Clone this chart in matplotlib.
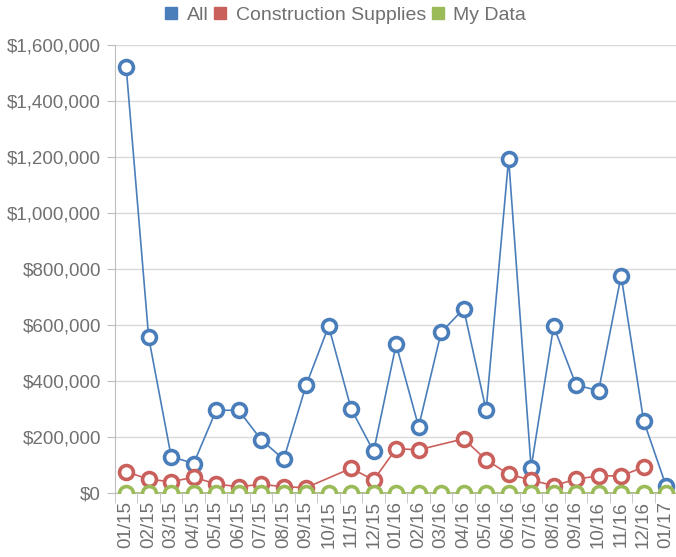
import numpy as np
import pandas as pd
import matplotlib
matplotlib.use("Agg")
import matplotlib.pyplot as plt
from matplotlib.ticker import FuncFormatter, FixedLocator
from matplotlib.lines import Line2D

plt.rcParams["font.family"] = ["Liberation Sans", "DejaVu Sans"]

months = ["01/15", "02/15", "03/15", "04/15", "05/15", "06/15", "07/15", "08/15",
          "09/15", "10/15", "11/15", "12/15", "01/16", "02/16", "03/16", "04/16",
          "05/16", "06/16", "07/16", "08/16", "09/16", "10/16", "11/16", "12/16", "01/17"]

all_vals = [1520000, 555000, 130000, 105000, 295000, 295000, 190000, 120000,
            385000, 595000, 300000, 148000, 530000, 236000, 573000, 657000,
            295000, 1193000, 90000, 595000, 385000, 365000, 775000, 258000, 25000]

construction = [76000, 49000, 40000, 56000, 32000, 22000, 31000, 22000,
                19000, np.nan, 88000, 46000, 158000, 154000, np.nan, 193000,
                118000, 67000, 46000, 26000, 49000, 61000, 61000, 92000, np.nan]

my_data = [0] * 25

series = [("All", all_vals, "#4a7ebb"),
          ("Construction Supplies", construction, "#c9605c"),
          ("My Data", my_data, "#9bbb59")]

fig = plt.figure(figsize=(6.76, 5.57), dpi=100)
ax = fig.add_axes([0.170, 0.115, 0.832, 0.805])

x = np.arange(len(months))
for name, vals, col in series:
    s = pd.Series(vals, index=x).dropna()
    ax.plot(s.index, s.values, color=col, linewidth=1.2, marker="o", markersize=10,
            markerfacecolor="white", markeredgecolor=col, markeredgewidth=2.6,
            clip_on=True, zorder=3)

ax.set_xlim(-0.5, len(months) - 0.5)
ax.set_ylim(0, 1600000)
ax.set_yticks(np.arange(0, 1600001, 200000))
ax.yaxis.set_major_formatter(FuncFormatter(lambda v, p: f"${v:,.0f}"))
ax.set_xticks(x)
ax.set_xticklabels(months, rotation=90)
ax.xaxis.set_minor_locator(FixedLocator(np.arange(-0.5, len(months), 1)))

ax.grid(axis="y", color="#d9d9d9", linewidth=1)
ax.set_axisbelow(True)
for side in ["top", "right"]:
    ax.spines[side].set_visible(False)
for side in ["left", "bottom"]:
    ax.spines[side].set_color("#bfbfbf")

ax.tick_params(axis="y", colors="#bfbfbf", labelcolor="#707070", labelsize=13.5, length=6, pad=4)
ax.tick_params(axis="x", which="major", length=0, labelcolor="#707070", labelsize=13.5, pad=6)
ax.tick_params(axis="x", which="minor", length=7, color="#bfbfbf")

handles = [Line2D([], [], marker="s", linestyle="none", markersize=9, color=c) for _, _, c in series]
fig.legend(handles, [n for n, _, _ in series], loc="upper center", bbox_to_anchor=(0.51, 1.02),
           ncol=3, frameon=False, fontsize=14, handletextpad=0.4, columnspacing=0.2,
           labelcolor="#707070", handlelength=0.8)

fig.savefig("out.png", dpi=100)
